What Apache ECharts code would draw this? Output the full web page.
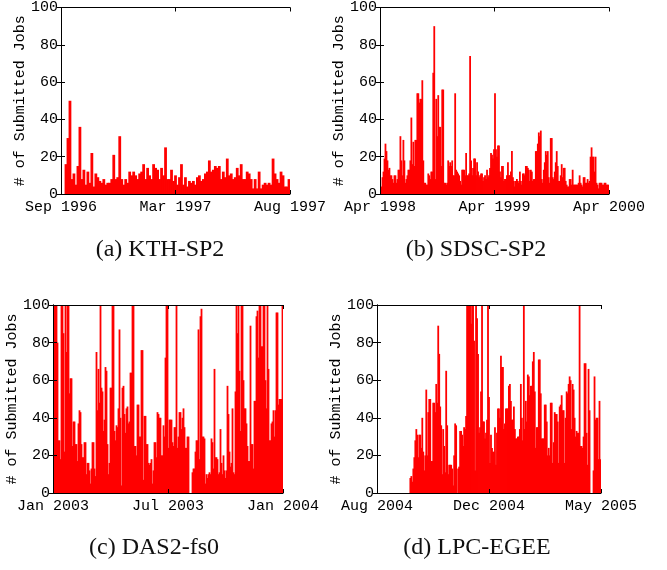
<!DOCTYPE html>
<html>
<head>
<meta charset="utf-8">
<script src="https://cdn.jsdelivr.net/npm/echarts@6/dist/echarts.min.js"></script>
<style>
html,body{margin:0;padding:0;background:#fff;}
#chart{width:667px;height:570px;}
</style>
</head>
<body>
<div id="chart"></div>
<script>
// ---- data ----
const kthLabels = ['Sep 1996', 'Mar 1997', 'Aug 1997'];
const kthJobs = [
  0,0,16,30,50,8,11,5,15,36,
  8,13,5,12,6,22,4,11,9,7,
  6,8,5,6,6,8,21,8,9,31,
  8,5,8,6,12,10,12,10,8,11,
  12,16,8,14,10,8,16,14,13,8,
  14,10,25,8,8,13,7,10,5,9,
  16,5,9,4,7,6,7,5,9,10,
  7,8,11,12,18,12,13,15,14,15,
  8,12,9,19,10,11,8,9,14,10,
  16,8,8,12,11,8,3,8,3,12,
  3,5,6,5,6,5,19,11,8,6,
  12,10,4,4,8
];

const sdscLabels = ['Apr 1998', 'Apr 1999', 'Apr 2000'];
const sdscJobs = [
  1,4,9,12,19,27,23,18,13,14,
  10,10,8,6,10,10,6,8,13,13,
  31,18,10,29,18,6,8,10,13,13,
  18,41,16,28,15,29,29,54,54,49,
  51,51,61,18,6,6,5,5,11,10,
  8,12,12,65,90,8,51,31,53,36,
  36,15,56,56,6,6,5,6,18,15,
  17,15,18,10,10,54,13,12,11,10,
  7,5,13,13,13,10,22,10,10,11,
  74,18,10,14,19,19,10,17,12,9,
  10,11,11,7,9,10,8,13,9,10,
  14,22,21,19,24,54,24,20,26,26,
  12,9,15,15,7,8,8,10,17,10,
  10,12,23,9,7,4,7,8,7,6,
  12,7,5,11,11,10,15,15,14,13,
  7,13,12,7,8,8,23,23,27,33,
  31,34,8,6,13,17,23,21,23,9,
  6,30,30,9,8,12,17,23,15,7,
  7,10,16,9,14,14,7,5,4,4,
  8,8,5,13,5,5,5,5,5,6,
  10,6,5,4,9,9,6,6,8,6,
  7,20,25,20,20,12,20,6,5,3,
  6,6,6,5,5,6,6,5,5,5
];

const dasLabels = ['Jan 2003', 'Jul 2003', 'Jan 2004'];
const dasJobs = [
  100,100,100,100,80,28,28,18,100,100,
  85,22,100,75,100,100,53,61,61,25,
  38,38,26,26,17,37,44,43,26,19,
  19,27,27,10,16,16,12,5,13,27,
  27,13,9,75,44,66,48,100,56,54,
  33,39,67,65,26,10,16,56,56,100,
  100,33,28,36,35,45,87,40,4,56,
  57,42,32,45,46,37,38,64,64,100,
  100,25,25,20,47,47,30,30,76,76,
  7,41,41,26,26,16,15,16,18,5,
  12,27,27,19,43,42,40,40,20,20,
  36,30,72,100,100,24,39,39,39,27,
  25,35,35,100,24,30,43,43,34,40,
  45,35,24,24,30,30,0,0,0,11,
  13,13,22,28,28,87,18,94,98,30,
  30,29,5,10,8,10,11,10,29,27,
  13,66,19,19,18,10,11,34,16,10,
  20,12,8,12,57,42,22,14,16,45,
  11,10,54,100,85,100,65,33,100,100,
  60,45,45,37,25,17,17,89,26,26,
  13,49,49,94,97,72,100,100,78,78,
  100,100,60,45,100,66,28,28,37,38,
  44,30,44,96,96,47,50,50,50,100
];

const lpcLabels = ['Aug 2004', 'Dec 2004', 'May 2005'];
const lpcJobs = [
  0,0,0,0,0,0,0,0,0,0,
  0,0,0,0,0,0,0,0,0,0,
  0,0,0,0,0,0,0,0,0,0,
  0,0,0,
  8,9,6,13,19,28,34,31,19,31,
  31,24,40,22,12,20,55,20,43,50,
  50,17,17,48,48,43,58,48,89,74,
  46,36,10,34,25,11,65,36,10,15,
  15,15,13,4,20,37,36,0,13,14,
  33,33,31,25,35,34,41,100,100,100,
  100,90,100,100,81,12,100,93,74,32,
  35,54,100,38,38,29,32,39,100,51,
  16,31,24,22,22,35,15,32,45,45,
  40,73,67,67,34,37,45,45,45,57,
  58,49,39,39,46,34,29,29,30,30,
  34,58,40,28,100,34,49,38,63,62,
  52,57,57,70,75,54,24,35,35,71,
  71,53,29,29,29,47,47,38,20,24,
  20,48,48,16,27,43,42,42,38,16,
  46,47,52,44,44,16,40,54,53,58,
  62,60,34,58,55,40,30,33,32,32,
  100,25,25,24,30,69,69,32,15,66,
  44,0,0,0,12,62,39,40,40,18,
  49,18
];

const yTicks = [0, 20, 40, 60, 80, 100];
const yName = '# of Submitted Jobs';
const captions = ['(a) KTH-SP2', '(b) SDSC-SP2', '(c) DAS2-fs0', '(d) LPC-EGEE'];

// ---- layout ----
const panels = [
  { jobs: kthJobs,  labels: kthLabels,  grid: { left: 61,  top: 5,   width: 229, height: 189 }, cap: [160, 250] },
  { jobs: sdscJobs, labels: sdscLabels, grid: { left: 380, top: 5,   width: 229, height: 189 }, cap: [476, 250] },
  { jobs: dasJobs,  labels: dasLabels,  grid: { left: 53,  top: 305, width: 230, height: 188 }, cap: [154, 548] },
  { jobs: lpcJobs,  labels: lpcLabels,  grid: { left: 377, top: 305, width: 224, height: 188 }, cap: [477, 548] }
];

const mono = 'Liberation Mono';
const tickStyle = { show: true, inside: true, length: 4, lineStyle: { color: '#000', width: 1 } };
const lineStyle = { show: true, lineStyle: { color: '#000', width: 1 } };

const grid = [], xAxis = [], yAxis = [], series = [], graphic = [];
panels.forEach((p, i) => {
  grid.push(Object.assign({ containLabel: false }, p.grid));
  const cats = p.jobs.map((_, k) => k);
  xAxis.push({
    type: 'category', gridIndex: i, data: cats, boundaryGap: true,
    axisLine: { show: false }, axisTick: { show: false }, axisLabel: { show: false }
  });
  xAxis.push({
    type: 'value', gridIndex: i, position: 'bottom', min: 0, max: p.labels.length - 1, interval: 1, z: 10,
    axisLine: lineStyle, axisTick: tickStyle, splitLine: { show: false },
    axisLabel: {
      show: true, margin: 6, color: '#000', fontFamily: mono, fontSize: 15,
      showMinLabel: true, showMaxLabel: true,
      formatter: v => p.labels[Math.round(v)]
    }
  });
  xAxis.push({
    type: 'value', gridIndex: i, position: 'top', min: 0, max: p.labels.length - 1, interval: 1, z: 10,
    axisLine: lineStyle, axisTick: tickStyle, splitLine: { show: false }, axisLabel: { show: false }
  });
  yAxis.push({
    type: 'value', gridIndex: i, position: 'left', min: yTicks[0], max: yTicks[yTicks.length - 1], interval: 20, z: 10,
    axisLine: lineStyle, axisTick: tickStyle, splitLine: { show: false },
    axisLabel: { margin: 3, color: '#000', fontFamily: mono, fontSize: 15 },
    name: yName, nameLocation: 'middle', nameGap: 32,
    nameTextStyle: { fontFamily: mono, fontSize: 15, color: '#000' }
  });
  yAxis.push({
    type: 'value', gridIndex: i, position: 'right', min: yTicks[0], max: yTicks[yTicks.length - 1], interval: 20, z: 10,
    axisLine: lineStyle, axisTick: tickStyle, splitLine: { show: false }, axisLabel: { show: false }
  });
  series.push({
    type: 'bar', xAxisIndex: 3 * i, yAxisIndex: 2 * i, data: p.jobs,
    barWidth: p.grid.width / p.jobs.length + 0.8, barGap: '-100%',
    itemStyle: { color: '#ff0000' }, silent: true, animation: false
  });
  graphic.push({
    type: 'text', x: p.cap[0], y: p.cap[1],
    style: { text: captions[i], font: '24px "Liberation Serif"', fill: '#111', align: 'center', verticalAlign: 'middle' }
  });
});

const chart = echarts.init(document.getElementById('chart'), null, { renderer: 'canvas' });
chart.setOption({ animation: false, backgroundColor: '#fff', grid, xAxis, yAxis, series, graphic });
</script>
</body>
</html>
